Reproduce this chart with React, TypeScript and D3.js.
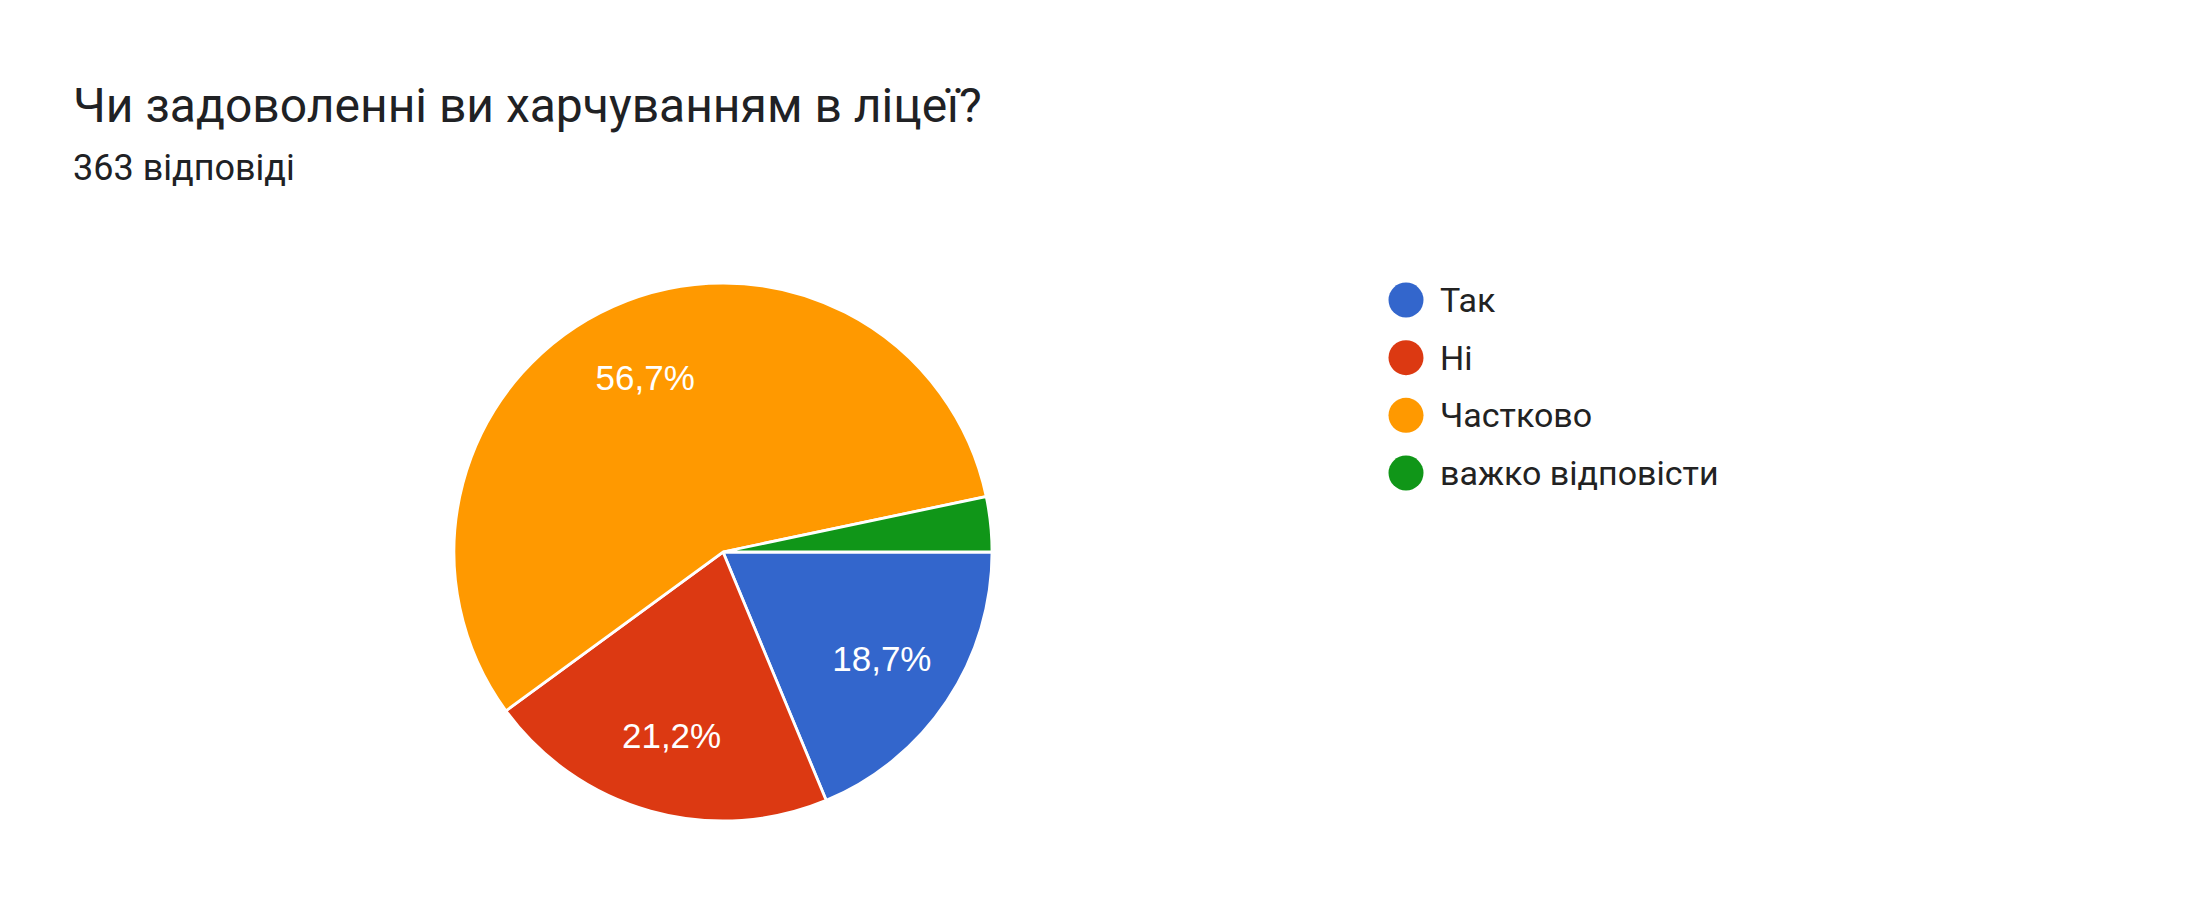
import React from "react";
import * as d3 from "d3";

const title = "Чи задоволенні ви харчуванням в ліцеї?";
const subtitle = "363 відповіді";
const categories = ["Так", "Ні", "Частково", "важко відповісти"];
const counts = [68, 77, 206, 12];
const colors = ["#3366cc", "#dc3912", "#ff9900", "#109618"];

const W = 2196;
const H = 924;

export default function App() {
  const cx = 723;
  const cy = 552;
  const r = 269;
  const total = d3.sum(counts);
  const pie = d3
    .pie<number>()
    .sort(null)
    .startAngle(Math.PI / 2)
    .endAngle(Math.PI / 2 + 2 * Math.PI)
    .value((d) => d);
  const arcs = pie(counts);
  const arcGen = d3.arc<d3.PieArcDatum<number>>().innerRadius(0).outerRadius(r);
  const labelArc = d3
    .arc<d3.PieArcDatum<number>>()
    .innerRadius(r * 0.71)
    .outerRadius(r * 0.71);
  const fmt = (v: number) =>
    (Math.round((v / total) * 1000) / 10).toFixed(1).replace(".", ",") + "%";

  const legendY = d3
    .scalePoint<string>()
    .domain(categories)
    .range([300, 473]);

  return (
    <svg
      width={W}
      height={H}
      style={{ position: "absolute", left: 0, top: 0, background: "#fff" }}
      fontFamily="Roboto, Arial, sans-serif"
    >
      <text x={73} y={122} fontSize={48} fill="#202124">
        {title}
      </text>
      <text x={73} y={180} fontSize={36} fill="#202124">
        {subtitle}
      </text>
      <g transform={`translate(${cx},${cy})`}>
        {arcs.map((a, i) => (
          <path
            key={i}
            d={arcGen(a) || ""}
            fill={colors[i]}
            stroke="#ffffff"
            strokeWidth={2.8}
          />
        ))}
        {arcs.map((a, i) => {
          const frac = a.data / total;
          if (frac < 0.05) return null;
          const [lx, ly] = labelArc.centroid(a);
          return (
            <text
              key={"l" + i}
              x={lx}
              y={ly}
              fill="#ffffff"
              fontSize={35}
              fontFamily="'Liberation Sans', Arial, sans-serif"
              textAnchor="middle"
              dominantBaseline="central"
            >
              {fmt(a.data)}
            </text>
          );
        })}
      </g>
      {categories.map((c, i) => (
        <g key={c} transform={`translate(0,${legendY(c)})`}>
          <circle cx={1406} cy={0} r={17.5} fill={colors[i]} />
          <text
            x={1440}
            y={0}
            fontSize={34}
            fill="#222222"
            dominantBaseline="central"
          >
            {c}
          </text>
        </g>
      ))}
    </svg>
  );
}
